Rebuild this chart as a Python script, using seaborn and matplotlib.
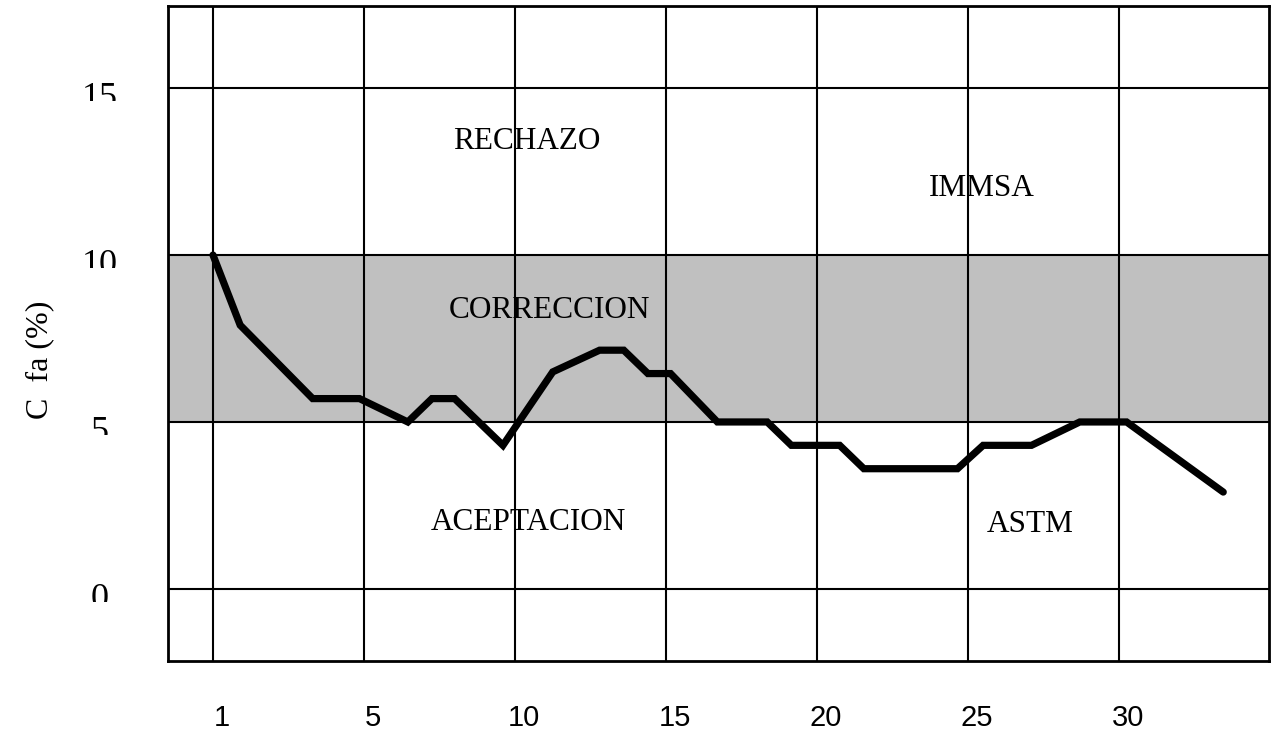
import matplotlib.pyplot as plt
import matplotlib.patches as mpatches
import matplotlib.transforms as mtransforms
import seaborn as sns
import pandas as pd

# x is measured in grid columns (column 0 = label "1", column 1 = "5", ...)
x_pos = [0.0, 0.18, 0.66, 0.97, 1.29, 1.45, 1.60, 1.92, 2.25, 2.56, 2.72, 2.88,
         3.03, 3.34, 3.67, 3.83, 4.15, 4.31, 4.93, 5.10, 5.42, 5.74, 6.05, 6.69]
c_fa = [10.0, 7.9, 5.7, 5.7, 5.0, 5.7, 5.7, 4.3, 6.5, 7.15, 7.15, 6.45,
        6.45, 5.0, 5.0, 4.3, 4.3, 3.6, 3.6, 4.3, 4.3, 5.0, 5.0, 2.9]
x_ticks = [0, 1, 2, 3, 4, 5, 6]
x_labels = ['1', '5', '10', '15', '20', '25', '30']
y_ticks = [0, 5, 10, 15]
band = [5, 10]
zones = ['RECHAZO', 'IMMSA', 'CORRECCION', 'ACEPTACION', 'ASTM']
zone_x = [2.08, 5.09, 2.23, 2.09, 5.41]
zone_y = [13.4, 12.0, 8.35, 1.98, 1.92]

sns.set_style('white')
plt.rcParams['font.family'] = ['Liberation Serif', 'DejaVu Serif']
plt.rcParams['text.color'] = 'black'
plt.rcParams['xtick.color'] = 'black'
plt.rcParams['ytick.color'] = 'black'

fig = plt.figure(figsize=(12.74, 7.36), dpi=100)
ax = fig.add_axes([168 / 1274, 75 / 736, 1101 / 1274, 655 / 736])

ax.axhspan(band[0], band[1], color='#c0c0c0', lw=0, zorder=0)

df = pd.DataFrame({'x': x_pos, 'c_fa': c_fa})
sns.lineplot(data=df, x='x', y='c_fa', ax=ax, color='black', linewidth=5.2,
             solid_joinstyle='miter', zorder=3)

ax.set_xlim(-0.298, 6.993)
ax.set_ylim(-2.16, 17.46)
ax.set_xticks(x_ticks, labels=x_labels)
ax.set_yticks(y_ticks, labels=[])
ax.set_axisbelow(True)
ax.grid(True, color='black', linewidth=1.5)
ax.set_xlabel('')
ax.set_ylabel('')
for s in ax.spines.values():
    s.set_visible(True)
    s.set_color('black')
    s.set_linewidth(2)

ax.tick_params(axis='both', length=0)
ax.tick_params(axis='x', labelsize=21, pad=31, labelcolor='black')
shift = mtransforms.ScaledTranslation(9 / 100, 0, fig.dpi_scale_trans)
for lbl in ax.get_xticklabels():
    lbl.set_fontfamily(['Liberation Sans', 'DejaVu Sans'])
    lbl.set_transform(lbl.get_transform() + shift)

# y labels: the bottom part of the digits is cut off in the original
trans = mtransforms.blended_transform_factory(ax.transAxes, ax.transData)
lab_trans = mtransforms.offset_copy(trans, fig=fig, y=-19, units='dots')
for v in y_ticks:
    t = ax.text(-0.062, v, str(v), transform=lab_trans, ha='center',
                va='baseline', fontsize=26, color='black', clip_on=True)
    t.set_clip_path(mpatches.Rectangle((-0.2, v - 0.39), 0.2, 1.2, transform=trans))

for name, zx, zy in zip(zones, zone_x, zone_y):
    ax.text(zx, zy, name, ha='center', va='center', fontsize=22.5,
            color='black', zorder=2)

fig.text(40 / 1274, 1 - 360 / 736, 'C  fa (%)', rotation=90,
         ha='center', va='center', fontsize=23, color='black')

fig.savefig('out.png', dpi=100)
